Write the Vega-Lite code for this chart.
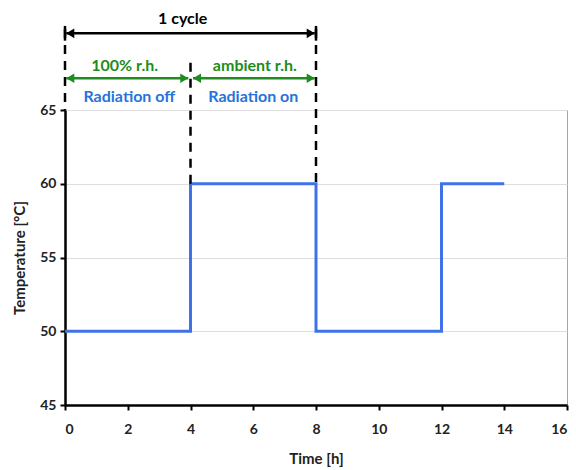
{
  "$schema": "https://vega.github.io/schema/vega-lite/v6.json",
  "width": 502,
  "height": 295,
  "autosize": {"type": "none"},
  "padding": {"left": 65, "top": 110, "right": 9, "bottom": 65},
  "config": {"view": {"stroke": "#a6a6a6", "strokeWidth": 1}, "font": "Lato"},
  "datasets": {
    "temp": [
      {"time": 0, "temperature": 50},
      {"time": 4, "temperature": 60},
      {"time": 8, "temperature": 50},
      {"time": 12, "temperature": 60},
      {"time": 14, "temperature": 60}
    ],
    "dash": [
      {"x": 0, "y": 70.5, "y2": 65},
      {"x": 4, "y": 68.2, "y2": 60},
      {"x": 8, "y": 70.5, "y2": 60}
    ],
    "arrows": [
      {"x": 0.04, "x2": 7.96, "y": 70.2, "kind": "cycle"},
      {"x": 0.04, "x2": 3.93, "y": 67.15, "kind": "rh"},
      {"x": 4.08, "x2": 7.96, "y": 67.15, "kind": "rh"}
    ],
    "bars": [
      {"x": 0, "y": 69.7, "y2": 70.7},
      {"x": 8, "y": 69.7, "y2": 70.7}
    ],
    "labels": [
      {"label": "1 cycle", "x": 3.75, "y": 71.15, "kind": "cycle"},
      {"label": "100% r.h.", "x": 1.9, "y": 67.95, "kind": "rh"},
      {"label": "ambient r.h.", "x": 6.05, "y": 67.95, "kind": "rh"},
      {"label": "Radiation off", "x": 2.05, "y": 65.9, "kind": "rad"},
      {"label": "Radiation on", "x": 6.0, "y": 65.9, "kind": "rad"}
    ]
  },
  "layer": [
    {
      "data": {"name": "temp"},
      "mark": {"type": "line", "interpolate": "step-after", "color": "#3f72e6", "strokeWidth": 3},
      "encoding": {
        "x": {
          "field": "time", "type": "quantitative",
          "scale": {"domain": [0, 16], "nice": false},
          "axis": {
            "title": "Time [h]", "values": [0, 2, 4, 6, 8, 10, 12, 14, 16], "grid": false,
            "domainColor": "#000000", "domainWidth": 2.5, "tickColor": "#000000", "tickWidth": 2, "tickSize": 5,
            "labelFont": "Lato", "labelFontWeight": "bold", "labelFontSize": 14, "labelColor": "#222222", "labelPadding": 12,
            "titleFont": "Lato", "titleFontWeight": "bold", "titleFontSize": 15, "titleColor": "#222222", "titlePadding": 15
          }
        },
        "y": {
          "field": "temperature", "type": "quantitative",
          "scale": {"domain": [45, 65], "nice": false, "zero": false},
          "axis": {
            "title": "Temperature [°C]", "values": [45, 50, 55, 60, 65], "grid": true, "gridColor": "#dedede", "gridWidth": 1,
            "domainColor": "#000000", "domainWidth": 2.5, "tickColor": "#000000", "tickWidth": 2, "tickSize": 5,
            "labelFont": "Lato", "labelFontWeight": "bold", "labelFontSize": 14, "labelColor": "#222222", "labelPadding": 4,
            "titleFont": "Lato", "titleFontWeight": "bold", "titleFontSize": 15, "titleColor": "#222222", "titlePadding": 12
          }
        }
      }
    },
    {
      "data": {"name": "dash"},
      "mark": {"type": "rule", "color": "#000000", "strokeWidth": 2.5, "strokeDash": [9, 7]},
      "encoding": {
        "x": {"field": "x", "type": "quantitative"},
        "y": {"field": "y", "type": "quantitative"},
        "y2": {"field": "y2"}
      }
    },
    {
      "data": {"name": "bars"},
      "mark": {"type": "rule", "color": "#000000", "strokeWidth": 2.5},
      "encoding": {
        "x": {"field": "x", "type": "quantitative"},
        "y": {"field": "y", "type": "quantitative"},
        "y2": {"field": "y2"}
      }
    },
    {
      "data": {"name": "arrows"},
      "mark": {"type": "rule", "strokeWidth": 2.5},
      "encoding": {
        "x": {"field": "x", "type": "quantitative"},
        "x2": {"field": "x2"},
        "y": {"field": "y", "type": "quantitative"},
        "color": {"field": "kind", "type": "nominal", "scale": {"domain": ["cycle", "rh", "rad"], "range": ["#000000", "#1e8c1e", "#2673dc"]}, "legend": null}
      }
    },
    {
      "data": {"name": "arrows"},
      "mark": {"type": "point", "filled": true, "opacity": 1, "size": 260, "shape": "M0,0L1,-0.6L1,0.6Z", "strokeWidth": 0},
      "encoding": {
        "x": {"field": "x", "type": "quantitative"},
        "y": {"field": "y", "type": "quantitative"},
        "color": {"field": "kind", "type": "nominal", "legend": null}
      }
    },
    {
      "data": {"name": "arrows"},
      "mark": {"type": "point", "filled": true, "opacity": 1, "size": 260, "shape": "M0,0L-1,-0.6L-1,0.6Z", "strokeWidth": 0},
      "encoding": {
        "x": {"field": "x2", "type": "quantitative"},
        "y": {"field": "y", "type": "quantitative"},
        "color": {"field": "kind", "type": "nominal", "legend": null}
      }
    },
    {
      "data": {"name": "labels"},
      "mark": {"type": "text", "font": "Lato", "fontWeight": "bold", "fontSize": 16, "baseline": "middle", "align": "center"},
      "encoding": {
        "x": {"field": "x", "type": "quantitative"},
        "y": {"field": "y", "type": "quantitative"},
        "text": {"field": "label"},
        "color": {"field": "kind", "type": "nominal", "legend": null}
      }
    }
  ]
}
